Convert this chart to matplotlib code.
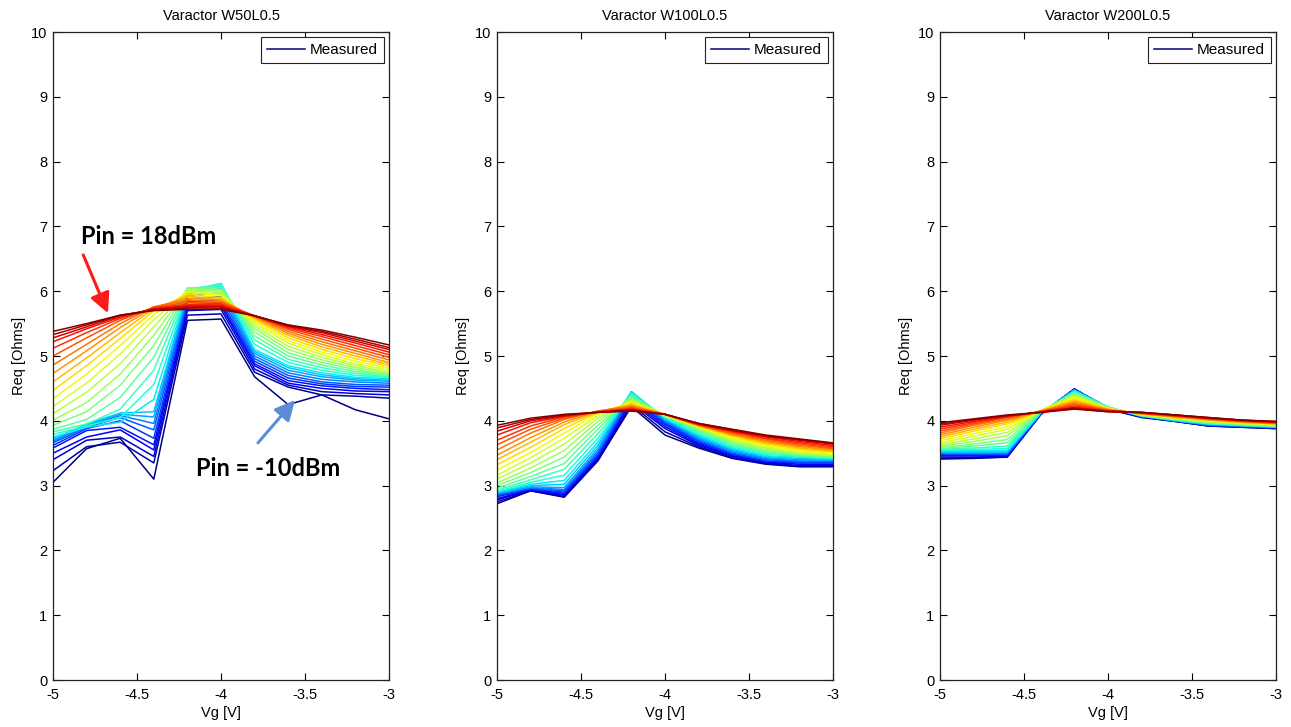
import numpy as np
import matplotlib
matplotlib.use("Agg")
import matplotlib.pyplot as plt

# gate voltage sweep and input power sweep (-10 .. 18 dBm)
vg = [-5.0, -4.8, -4.6, -4.4, -4.2, -4.0, -3.8, -3.6, -3.4, -3.2, -3.0]
pin_dbm = list(range(-10, 19))

titles = ["Varactor W50L0.5", "Varactor W100L0.5", "Varactor W200L0.5"]

# Req [Ohms] per Pin (rows: -10 dBm first, 18 dBm last)
req_w50 = [
    [3.05, 3.57, 3.73, 3.10, 5.55, 5.57, 4.68, 4.25, 4.40, 4.17, 4.03],
    [3.23, 3.60, 3.67, 3.35, 5.63, 5.65, 4.75, 4.52, 4.40, 4.38, 4.35],
    [3.40, 3.70, 3.75, 3.45, 5.70, 5.72, 4.80, 4.55, 4.45, 4.42, 4.40],
    [3.50, 3.75, 3.86, 3.55, 5.75, 5.77, 4.85, 4.58, 4.50, 4.46, 4.45],
    [3.58, 3.85, 3.90, 3.63, 5.79, 5.81, 4.88, 4.62, 4.54, 4.50, 4.48],
    [3.62, 3.88, 4.00, 3.73, 5.84, 5.86, 4.92, 4.66, 4.57, 4.53, 4.52],
    [3.66, 3.90, 4.05, 3.86, 5.88, 5.92, 4.96, 4.70, 4.60, 4.56, 4.55],
    [3.68, 3.92, 4.08, 3.96, 5.92, 5.98, 5.00, 4.74, 4.64, 4.60, 4.58],
    [3.70, 3.94, 4.10, 4.06, 5.95, 6.04, 5.04, 4.78, 4.68, 4.63, 4.61],
    [3.72, 3.95, 4.12, 4.14, 5.98, 6.08, 5.07, 4.82, 4.71, 4.65, 4.63],
    [3.75, 3.90, 3.98, 4.33, 6.00, 6.12, 5.10, 4.85, 4.74, 4.67, 4.65],
    [3.79, 3.92, 4.05, 4.56, 6.02, 6.11, 5.18, 4.90, 4.78, 4.70, 4.67],
    [3.83, 3.95, 4.18, 4.78, 6.04, 6.09, 5.25, 4.95, 4.82, 4.73, 4.68],
    [3.87, 4.02, 4.36, 4.98, 6.05, 6.06, 5.31, 5.00, 4.86, 4.76, 4.70],
    [3.93, 4.14, 4.55, 5.16, 6.04, 6.03, 5.37, 5.05, 4.90, 4.79, 4.71],
    [4.01, 4.28, 4.72, 5.32, 6.03, 6.00, 5.42, 5.10, 4.94, 4.82, 4.73],
    [4.11, 4.44, 4.88, 5.45, 6.02, 5.98, 5.46, 5.15, 4.98, 4.85, 4.75],
    [4.22, 4.58, 5.03, 5.56, 6.00, 5.95, 5.50, 5.20, 5.02, 4.88, 4.78],
    [4.34, 4.72, 5.16, 5.64, 5.98, 5.93, 5.53, 5.24, 5.06, 4.92, 4.81],
    [4.47, 4.85, 5.27, 5.70, 5.95, 5.90, 5.56, 5.28, 5.10, 4.96, 4.84],
    [4.60, 4.97, 5.36, 5.73, 5.92, 5.88, 5.58, 5.32, 5.14, 5.00, 4.87],
    [4.73, 5.08, 5.44, 5.75, 5.89, 5.86, 5.60, 5.35, 5.18, 5.04, 4.90],
    [4.86, 5.18, 5.50, 5.76, 5.86, 5.84, 5.61, 5.38, 5.22, 5.08, 4.94],
    [5.00, 5.28, 5.55, 5.75, 5.83, 5.82, 5.62, 5.41, 5.26, 5.12, 4.98],
    [5.12, 5.36, 5.58, 5.74, 5.80, 5.80, 5.62, 5.43, 5.30, 5.16, 5.02],
    [5.22, 5.42, 5.60, 5.73, 5.78, 5.78, 5.62, 5.45, 5.33, 5.20, 5.06],
    [5.28, 5.45, 5.62, 5.72, 5.76, 5.76, 5.62, 5.46, 5.36, 5.23, 5.10],
    [5.33, 5.48, 5.63, 5.71, 5.74, 5.74, 5.62, 5.47, 5.38, 5.26, 5.13],
    [5.38, 5.50, 5.63, 5.70, 5.72, 5.72, 5.62, 5.48, 5.40, 5.29, 5.17],
]

req_w100 = [
    [2.72, 2.92, 2.82, 3.38, 4.22, 3.78, 3.58, 3.42, 3.33, 3.29, 3.29],
    [2.75, 2.92, 2.83, 3.39, 4.25, 3.83, 3.60, 3.43, 3.34, 3.30, 3.30],
    [2.78, 2.93, 2.85, 3.41, 4.28, 3.88, 3.62, 3.45, 3.35, 3.31, 3.31],
    [2.80, 2.93, 2.86, 3.43, 4.31, 3.91, 3.64, 3.46, 3.36, 3.33, 3.33],
    [2.83, 2.94, 2.88, 3.45, 4.34, 3.94, 3.66, 3.48, 3.37, 3.35, 3.35],
    [2.85, 2.95, 2.90, 3.47, 4.37, 3.96, 3.68, 3.49, 3.38, 3.36, 3.36],
    [2.86, 2.96, 2.92, 3.50, 4.40, 3.98, 3.70, 3.50, 3.40, 3.37, 3.37],
    [2.87, 2.97, 2.94, 3.53, 4.43, 4.00, 3.72, 3.52, 3.42, 3.38, 3.38],
    [2.88, 2.98, 2.97, 3.57, 4.45, 4.02, 3.74, 3.54, 3.43, 3.40, 3.39],
    [2.89, 3.00, 3.02, 3.62, 4.45, 4.03, 3.76, 3.56, 3.45, 3.42, 3.40],
    [2.90, 3.02, 3.08, 3.67, 4.44, 4.04, 3.78, 3.58, 3.46, 3.44, 3.41],
    [2.91, 3.05, 3.16, 3.73, 4.42, 4.05, 3.80, 3.60, 3.48, 3.45, 3.42],
    [2.93, 3.09, 3.25, 3.80, 4.40, 4.06, 3.82, 3.62, 3.50, 3.46, 3.43],
    [2.96, 3.14, 3.34, 3.87, 4.38, 4.07, 3.84, 3.64, 3.52, 3.47, 3.44],
    [3.00, 3.20, 3.44, 3.93, 4.36, 4.08, 3.86, 3.66, 3.54, 3.48, 3.45],
    [3.04, 3.27, 3.54, 3.99, 4.34, 4.08, 3.88, 3.68, 3.56, 3.49, 3.46],
    [3.10, 3.35, 3.64, 4.04, 4.32, 4.09, 3.89, 3.70, 3.58, 3.50, 3.47],
    [3.16, 3.43, 3.73, 4.08, 4.30, 4.09, 3.90, 3.72, 3.60, 3.52, 3.48],
    [3.24, 3.51, 3.81, 4.11, 4.28, 4.10, 3.91, 3.74, 3.62, 3.54, 3.50],
    [3.32, 3.59, 3.88, 4.13, 4.26, 4.10, 3.92, 3.76, 3.64, 3.56, 3.52],
    [3.40, 3.67, 3.94, 4.14, 4.25, 4.10, 3.92, 3.78, 3.66, 3.58, 3.53],
    [3.47, 3.74, 3.98, 4.15, 4.23, 4.10, 3.93, 3.79, 3.68, 3.60, 3.55],
    [3.55, 3.81, 4.02, 4.15, 4.22, 4.10, 3.93, 3.80, 3.70, 3.62, 3.57],
    [3.63, 3.87, 4.04, 4.14, 4.20, 4.10, 3.94, 3.82, 3.72, 3.64, 3.58],
    [3.70, 3.92, 4.06, 4.14, 4.19, 4.10, 3.94, 3.83, 3.73, 3.66, 3.60],
    [3.78, 3.97, 4.07, 4.14, 4.18, 4.10, 3.95, 3.84, 3.75, 3.68, 3.62],
    [3.84, 4.00, 4.08, 4.13, 4.17, 4.10, 3.95, 3.85, 3.76, 3.70, 3.64],
    [3.89, 4.02, 4.09, 4.13, 4.16, 4.10, 3.96, 3.86, 3.77, 3.71, 3.65],
    [3.93, 4.04, 4.10, 4.13, 4.15, 4.10, 3.96, 3.87, 3.78, 3.72, 3.66],
]

req_w200 = [
    [3.41, 3.42, 3.44, 4.10, 4.49, 4.18, 4.05, 3.99, 3.92, 3.90, 3.88],
    [3.42, 3.43, 3.44, 4.10, 4.49, 4.18, 4.06, 3.99, 3.92, 3.90, 3.88],
    [3.44, 3.44, 3.45, 4.10, 4.49, 4.19, 4.06, 4.00, 3.92, 3.91, 3.89],
    [3.46, 3.46, 3.46, 4.10, 4.49, 4.19, 4.06, 4.00, 3.93, 3.91, 3.89],
    [3.47, 3.47, 3.47, 4.11, 4.49, 4.20, 4.06, 4.00, 3.93, 3.91, 3.89],
    [3.48, 3.48, 3.48, 4.11, 4.48, 4.20, 4.07, 4.00, 3.93, 3.91, 3.89],
    [3.49, 3.49, 3.49, 4.11, 4.48, 4.20, 4.07, 4.00, 3.94, 3.92, 3.90],
    [3.50, 3.50, 3.50, 4.12, 4.48, 4.21, 4.07, 4.00, 3.94, 3.92, 3.90],
    [3.51, 3.51, 3.51, 4.12, 4.47, 4.21, 4.07, 4.00, 3.94, 3.92, 3.90],
    [3.52, 3.52, 3.52, 4.12, 4.47, 4.21, 4.07, 4.01, 3.95, 3.93, 3.90],
    [3.54, 3.54, 3.54, 4.13, 4.46, 4.21, 4.08, 4.01, 3.95, 3.93, 3.91],
    [3.55, 3.56, 3.57, 4.13, 4.45, 4.21, 4.08, 4.01, 3.96, 3.93, 3.91],
    [3.56, 3.58, 3.61, 4.14, 4.44, 4.21, 4.08, 4.02, 3.96, 3.94, 3.91],
    [3.57, 3.61, 3.66, 4.14, 4.43, 4.21, 4.08, 4.02, 3.97, 3.94, 3.92],
    [3.59, 3.64, 3.71, 4.15, 4.42, 4.20, 4.09, 4.03, 3.98, 3.95, 3.92],
    [3.61, 3.68, 3.77, 4.15, 4.41, 4.20, 4.09, 4.03, 3.98, 3.95, 3.93],
    [3.63, 3.72, 3.82, 4.16, 4.39, 4.20, 4.09, 4.04, 3.99, 3.96, 3.93],
    [3.66, 3.76, 3.87, 4.16, 4.37, 4.19, 4.10, 4.04, 4.00, 3.96, 3.94],
    [3.69, 3.80, 3.91, 4.16, 4.35, 4.19, 4.10, 4.05, 4.00, 3.97, 3.94],
    [3.72, 3.84, 3.95, 4.16, 4.33, 4.18, 4.10, 4.05, 4.01, 3.97, 3.95],
    [3.75, 3.87, 3.98, 4.15, 4.31, 4.18, 4.11, 4.06, 4.01, 3.98, 3.95],
    [3.78, 3.90, 4.01, 4.15, 4.29, 4.17, 4.11, 4.06, 4.02, 3.98, 3.96],
    [3.81, 3.93, 4.03, 4.15, 4.27, 4.17, 4.11, 4.07, 4.02, 3.99, 3.96],
    [3.84, 3.95, 4.05, 4.14, 4.25, 4.16, 4.12, 4.07, 4.03, 3.99, 3.97],
    [3.87, 3.97, 4.06, 4.14, 4.23, 4.16, 4.12, 4.08, 4.03, 4.00, 3.97],
    [3.90, 3.99, 4.07, 4.14, 4.21, 4.15, 4.12, 4.08, 4.04, 4.00, 3.98],
    [3.93, 4.01, 4.08, 4.13, 4.20, 4.15, 4.13, 4.09, 4.04, 4.01, 3.98],
    [3.95, 4.02, 4.08, 4.13, 4.19, 4.14, 4.13, 4.09, 4.05, 4.01, 3.99],
    [3.97, 4.03, 4.09, 4.13, 4.18, 4.14, 4.13, 4.09, 4.05, 4.01, 3.99],
]

plt.rcParams['font.family'] = ['Liberation Sans', 'DejaVu Sans']

fig = plt.figure(figsize=(12.91, 7.27), dpi=100)
lefts = [53, 497, 940]
colors = plt.cm.jet(np.linspace(0, 1, len(pin_dbm)))

axes = []
for i, data in enumerate([req_w50, req_w100, req_w200]):
    ax = fig.add_axes([lefts[i] / 1291, 47 / 727, 336 / 1291, 648 / 727])
    for k, row in enumerate(data):
        lbl = "Measured" if k == 0 else None
        ax.plot(vg, row, color=colors[k], lw=1.1, label=lbl)
    ax.set_xlim(-5, -3)
    ax.set_ylim(0, 10)
    ax.set_xticks([-5, -4.5, -4, -3.5, -3])
    ax.set_xticklabels(["-5", "-4.5", "-4", "-3.5", "-3"])
    ax.set_yticks(range(0, 11))
    ax.tick_params(direction='in', top=True, right=True, length=5, width=0.8,
                   labelsize=10.5)
    ax.tick_params(axis='x', pad=6)
    ax.tick_params(axis='y', pad=4)
    for sp in ax.spines.values():
        sp.set_linewidth(0.9)
        sp.set_color('#222222')
    ax.set_title(titles[i], fontsize=10.5, pad=9)
    ax.set_xlabel("Vg [V]", fontsize=10.5, labelpad=3)
    ax.set_ylabel("Req [Ohms]", fontsize=10.5, labelpad=4)
    leg = ax.legend(loc='upper right', fontsize=11, fancybox=False,
                    framealpha=1, edgecolor='#222222', handlelength=2.5,
                    borderaxespad=0.35, borderpad=0.38, handletextpad=0.3)
    leg.get_frame().set_linewidth(0.8)
    axes.append(ax)

ax = axes[0]
ax.text(-4.43, 6.84, "Pin = 18dBm", ha='center', va='center', fontsize=17,
        fontweight='bold', family=['Lato', 'DejaVu Sans'])
ax.text(-3.72, 3.27, "Pin = -10dBm", ha='center', va='center', fontsize=17,
        fontweight='bold', family=['Lato', 'DejaVu Sans'])
ax.annotate("", xy=(-4.673, 5.66), xytext=(-4.82, 6.56),
            arrowprops=dict(arrowstyle='-|>,head_length=1.2,head_width=0.6',
                            color='#ff1a1a', lw=2.2, shrinkA=0, shrinkB=0))
ax.annotate("", xy=(-3.56, 4.32), xytext=(-3.78, 3.66),
            arrowprops=dict(arrowstyle='-|>,head_length=1.2,head_width=0.6',
                            color='#5b8ed6', lw=2.2, shrinkA=0, shrinkB=0))

fig.savefig("out.png", dpi=100)
